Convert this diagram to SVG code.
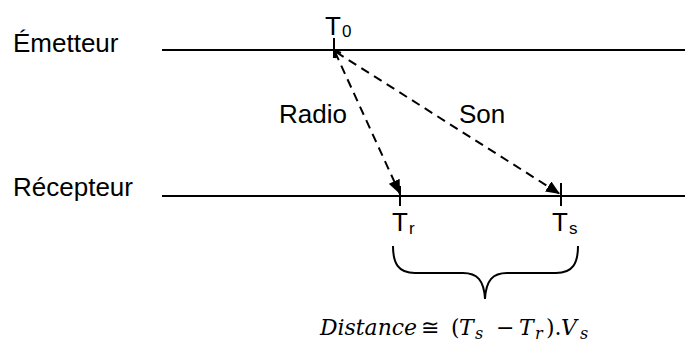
<svg xmlns="http://www.w3.org/2000/svg" width="685" height="349" viewBox="0 0 685 349">
<style>
.lbl{font-family:"Liberation Sans",Arial,sans-serif;font-size:26px;fill:#000}
.sub{font-family:"Liberation Sans",Arial,sans-serif;font-size:17px;fill:#000}
.axis{stroke:#000;stroke-width:2;fill:none}
.tick{stroke:#000;stroke-width:2}
.dash{stroke:#000;stroke-width:2;stroke-dasharray:9,6;fill:none}
.math{font-family:"DejaVu Serif","Liberation Serif",serif;font-size:22px;fill:#000}
.ms{font-family:"DejaVu Serif","Liberation Serif",serif;font-size:16px;font-style:italic;fill:#000}
.mi{font-style:italic}
</style>
<defs>
<marker id="ah" viewBox="0 0 14 12" refX="14" refY="6" markerWidth="14" markerHeight="12" markerUnits="userSpaceOnUse" orient="auto">
<path d="M0,0 L14,6 L0,12 Z" fill="#000"/>
</marker>
</defs>
<g id="emetteur">
<text class="lbl" x="13" y="52">Émetteur</text>
<line class="axis" x1="162" y1="50" x2="685" y2="50"/>
<line class="tick" x1="334" y1="38" x2="334" y2="58"/>
<text class="lbl" x="325" y="35">T</text>
<text class="sub" x="342" y="37">0</text>
</g>
<g id="recepteur">
<text class="lbl" x="13" y="196">Récepteur</text>
<line class="axis" x1="162" y1="196" x2="685" y2="196"/>
<line class="tick" x1="400" y1="186" x2="400" y2="206"/>
<line class="tick" x1="561" y1="183" x2="561" y2="206"/>
<text class="lbl" x="392" y="231">T</text>
<text class="sub" x="409" y="234">r</text>
<text class="lbl" x="552" y="231">T</text>
<text class="sub" x="569" y="234">s</text>
</g>
<g id="connectors">
<path class="dash" d="M335,52 L400,194" marker-end="url(#ah)"/>
<path class="dash" d="M336,52 L560,194" marker-end="url(#ah)"/>
<path d="M334,50 L336,58 M334,50 L341,53" stroke="#000" stroke-width="2" fill="none"/>
<text class="lbl" x="279" y="123">Radio</text>
<text class="lbl" x="459" y="123">Son</text>
</g>
<g id="brace">
<path d="M393,246 C393,263 398,273 415,273 L463,273 C477,273 484,280 485,299 C486,280 493,273 507,273 L556,273 C573,273 578,263 578,246" stroke="#000" stroke-width="2" fill="none"/>
</g>
<g id="formula">
<text class="math mi" x="320" y="335" textLength="97" lengthAdjust="spacingAndGlyphs">Distance</text>
<text class="math" x="421" y="335">≅</text>
<text class="math" x="451" y="335">(</text>
<text class="math mi" x="459" y="335">T</text>
<text class="ms" x="475" y="339">s</text>
<text class="math" x="496" y="335">−</text>
<text class="math mi" x="519" y="335">T</text>
<text class="ms" x="535" y="339">r</text>
<text class="math" x="546" y="335">).</text>
<text class="math mi" x="561" y="335">V</text>
<text class="ms" x="580" y="339">s</text>
</g>
</svg>
